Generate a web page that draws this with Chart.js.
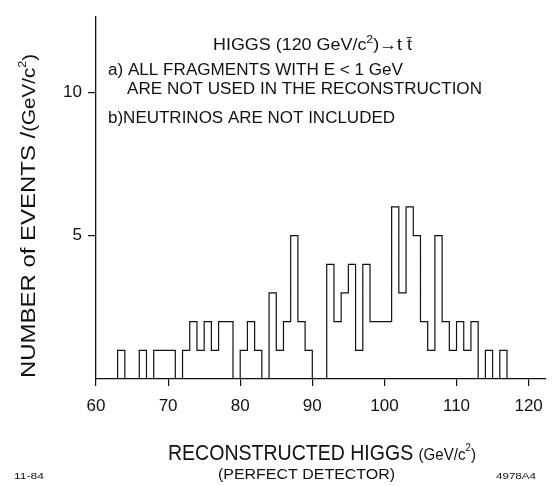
<!DOCTYPE html>
<html lang="en">
<head>
    <meta charset="UTF-8">
    <title>Reconstructed Higgs mass</title>
    <script src="https://cdn.jsdelivr.net/npm/chart.js"></script>
    <style>
        body { margin: 0; background: #fff; }
        canvas { display: block; }
    </style>
</head>
<body>
    <canvas id="higgsChart" width="553" height="486"></canvas>

    <script>
        // lower edge of each 1 GeV bin and the number of events in it
        const binLow = [63, 64, 65, 66, 67, 68, 69, 70, 71, 72, 73, 74, 75, 76, 77, 78, 79,
                        80, 81, 82, 83, 84, 85, 86, 87, 88, 89, 90, 91, 92, 93, 94, 95, 96,
                        97, 98, 99, 100, 101, 102, 103, 104, 105, 106, 107, 108, 109, 110,
                        111, 112, 113, 114, 115, 116];
        const counts = [1, 0, 0, 1, 0, 1, 1, 1, 0, 1, 2, 1, 2, 1, 2, 2, 0,
                        1, 2, 1, 0, 3, 1, 2, 5, 2, 1, 0, 0, 4, 2, 3, 4, 1,
                        4, 2, 2, 2, 6, 3, 6, 5, 2, 1, 5, 2, 1, 2,
                        1, 2, 0, 1, 0, 1];
        const binWidth = 1;

        const xTicks = [60, 70, 80, 90, 100, 110, 120];
        const yTicks = [5, 10];

        const FONT = "'Liberation Sans', Arial, sans-serif";

        // outline points for the step line
        const points = [{ x: binLow[0], y: 0 }];
        binLow.forEach((x, i) => points.push({ x: x, y: counts[i] }));
        points.push({ x: binLow[binLow.length - 1] + binWidth, y: 0 });

        // draw a run of text pieces, squeezed to a given width
        function drawPieces(ctx, pieces, x, y, width) {
            let natural = 0;
            pieces.forEach(p => { ctx.font = p.font; natural += ctx.measureText(p.text).width; });
            const sx = width ? width / natural : 1;
            ctx.save();
            ctx.translate(x, y);
            ctx.scale(sx, 1);
            let cx = 0;
            pieces.forEach(p => {
                ctx.font = p.font;
                ctx.fillText(p.text, cx, p.dy || 0);
                cx += ctx.measureText(p.text).width;
            });
            ctx.restore();
        }

        const textPlugin = {
            id: "texts",
            afterDraw(chart) {
                const ctx = chart.ctx;
                ctx.save();
                ctx.fillStyle = "#111";
                ctx.textBaseline = "alphabetic";
                ctx.textAlign = "left";

                const f = size => size + "px " + FONT;

                // notes inside the plot
                drawPieces(ctx, [
                    { text: "HIGGS (120 GeV/c", font: f(16) },
                    { text: "2", font: f(11), dy: -7 },
                    { text: ")\u2192t t\u0304", font: f(16) }
                ], 213, 50, 199);
                drawPieces(ctx, [{ text: "a) ALL FRAGMENTS WITH E < 1 GeV", font: f(16) }], 108, 75, 295);
                drawPieces(ctx, [{ text: "ARE NOT USED IN THE RECONSTRUCTION", font: f(16) }], 127, 94, 355);
                drawPieces(ctx, [{ text: "b)NEUTRINOS ARE NOT INCLUDED", font: f(16) }], 108, 123, 287);

                // x axis title
                drawPieces(ctx, [
                    { text: "RECONSTRUCTED HIGGS ", font: f(22) },
                    { text: "(GeV/c", font: f(17) },
                    { text: "2", font: f(11), dy: -9 },
                    { text: ")", font: f(17) }
                ], 168, 460, 308);
                drawPieces(ctx, [{ text: "(PERFECT DETECTOR)", font: f(15) }], 218, 479, 177);

                // small figure labels
                drawPieces(ctx, [{ text: "11-84", font: f(9) }], 14, 479, 30);
                drawPieces(ctx, [{ text: "4978A4", font: f(9) }], 496, 479, 40);

                // y axis title
                ctx.save();
                ctx.translate(35, 378);
                ctx.rotate(-Math.PI / 2);
                drawPieces(ctx, [
                    { text: "NUMBER of EVENTS /", font: f(21) },
                    { text: "(GeV/c", font: f(18) },
                    { text: "2", font: f(11), dy: -9 },
                    { text: ")", font: f(18) }
                ], 0, 0, 324);
                ctx.restore();

                ctx.restore();
            }
        };

        new Chart(document.getElementById("higgsChart"), {
            type: "line",
            data: {
                datasets: [{
                    data: points,
                    stepped: true,
                    borderColor: "#111",
                    borderWidth: 1.2,
                    pointRadius: 0,
                    fill: false,
                    tension: 0
                }]
            },
            options: {
                responsive: false,
                animation: false,
                layout: { padding: { top: 12, right: 5, left: 0, bottom: 0 } },
                plugins: {
                    legend: { display: false },
                    tooltip: { enabled: false }
                },
                scales: {
                    x: {
                        type: "linear",
                        min: 60,
                        max: 122.3,
                        afterFit(scale) { scale.height = 107; },
                        afterBuildTicks(scale) { scale.ticks = xTicks.map(v => ({ value: v })); },
                        border: { display: true, color: "#111", width: 1.3 },
                        grid: { drawOnChartArea: false, drawTicks: true, tickLength: 7, color: "#111", lineWidth: 1.2 },
                        ticks: { color: "#111", padding: 10, font: { family: FONT, size: 17 } }
                    },
                    y: {
                        min: 0,
                        max: 12.65,
                        afterFit(scale) { scale.width = 96; },
                        afterBuildTicks(scale) { scale.ticks = yTicks.map(v => ({ value: v })); },
                        border: { display: true, color: "#111", width: 1.3 },
                        grid: { drawOnChartArea: false, drawTicks: true, tickLength: 8, color: "#111", lineWidth: 1.2 },
                        ticks: { color: "#111", padding: 6, font: { family: FONT, size: 17 } }
                    }
                }
            },
            plugins: [textPlugin]
        });
    </script>
</body>
</html>
